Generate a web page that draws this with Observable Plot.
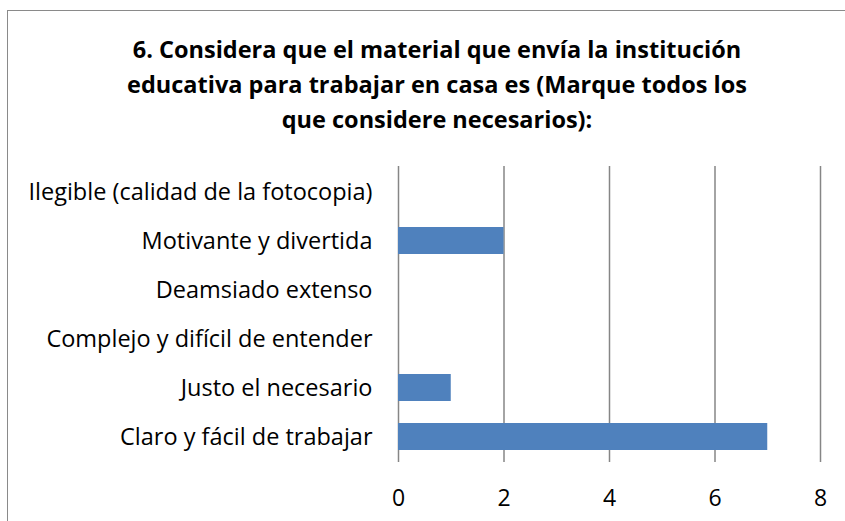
<!DOCTYPE html>
<html>
<head>
<meta charset="utf-8">
<script src="https://cdn.jsdelivr.net/npm/d3@7"></script>
<script src="https://cdn.jsdelivr.net/npm/@observablehq/plot@0.6"></script>
<style>
  html, body { margin: 0; padding: 0; background: #fff; width: 845px; height: 521px; overflow: hidden; }
  #frame { position: absolute; left: 7px; top: 10px; width: 900px; height: 600px; border: 1.5px solid #8a8a8a; box-sizing: border-box; }
  #title { position: absolute; left: 0; top: 32px; width: 874px; text-align: center; font-family: "Open Sans", sans-serif; font-weight: bold; font-size: 23.5px; line-height: 35px; color: #000; }
  #chart { position: absolute; left: 0; top: 150px; }
</style>
</head>
<body>
<div id="frame"></div>
<div id="title">6. Considera que el material que envía la institución<br>educativa para trabajar en casa es (Marque todos los<br>que considere necesarios):</div>
<div id="chart"></div>
<script>
const categories = [
  "Ilegible (calidad de la fotocopia)",
  "Motivante y divertida",
  "Deamsiado extenso",
  "Complejo y difícil de entender",
  "Justo el necesario",
  "Claro y fácil de trabajar"
];
const values = [0, 2, 0, 0, 1, 7];
const xTicks = [0, 2, 4, 6, 8];

const data = categories.map((c, i) => ({category: c, value: values[i]}));

const chart = Plot.plot({
  width: 845,
  height: 371,
  marginLeft: 398,
  marginRight: 25,
  marginTop: 16,
  marginBottom: 59,
  style: { fontFamily: "Open Sans, sans-serif", fontSize: "23px", color: "#000", background: "transparent" },
  x: { domain: [0, 8], ticks: xTicks, label: null },
  y: { domain: categories, paddingInner: 0.45, paddingOuter: 0.225, label: null },
  marks: [
    Plot.ruleX(xTicks, { stroke: "#868686", strokeWidth: 1.5, strokeOpacity: 1 }),
    Plot.barX(data, { x: "value", y: "category", fill: "#4F81BD" }),
    Plot.axisX({ ticks: xTicks, tickSize: 0, tickPadding: 27, fontSize: 23, tickFormat: d => d }),
    Plot.axisY({ tickSize: 0, tickPadding: 26, fontSize: 23.5 })
  ]
});
document.getElementById("chart").appendChild(chart);
</script>
</body>
</html>
